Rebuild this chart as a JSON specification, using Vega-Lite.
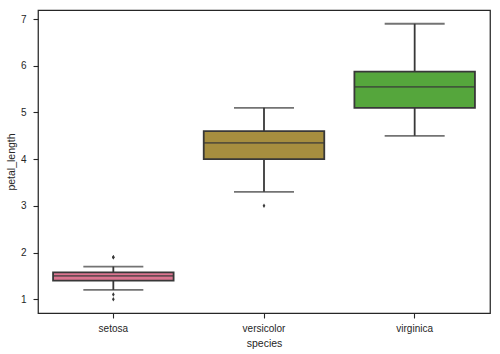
{
  "$schema": "https://vega.github.io/schema/vega-lite/v6.json",
  "autosize": {"type": "none"},
  "width": 452,
  "height": 303,
  "padding": {"left": 38, "top": 10, "right": 10, "bottom": 41},
  "background": "white",
  "config": {
    "view": {"stroke": "#262626", "strokeWidth": 1.25},
    "font": "Liberation Sans",
    "axis": {
      "domain": false,
      "grid": false,
      "tickColor": "#262626",
      "tickWidth": 1.1,
      "tickSize": 5,
      "labelColor": "#262626",
      "labelFontSize": 10,
      "titleColor": "#262626",
      "titleFontSize": 10.5,
      "titleFontWeight": "normal",
      "labelFont": "Liberation Sans",
      "titleFont": "Liberation Sans"
    }
  },
  "datasets": {
    "stats": [
      {"species": "setosa", "lo": 1.2, "q1": 1.4, "median": 1.5, "q3": 1.575, "hi": 1.7},
      {"species": "versicolor", "lo": 3.3, "q1": 4.0, "median": 4.35, "q3": 4.6, "hi": 5.1},
      {"species": "virginica", "lo": 4.5, "q1": 5.1, "median": 5.55, "q3": 5.875, "hi": 6.9}
    ],
    "outliers": [
      {"species": "setosa", "petal_length": 1.9},
      {"species": "setosa", "petal_length": 1.9},
      {"species": "setosa", "petal_length": 1.0},
      {"species": "setosa", "petal_length": 1.1},
      {"species": "versicolor", "petal_length": 3.0}
    ]
  },
  "encoding": {
    "x": {
      "field": "species",
      "type": "nominal",
      "sort": ["setosa", "versicolor", "virginica"],
      "scale": {"paddingInner": 0, "paddingOuter": 0},
      "axis": {"title": "species", "labelAngle": 0, "labelPadding": 5, "titlePadding": 5}
    }
  },
  "layer": [
    {
      "data": {"name": "stats"},
      "mark": {"type": "rule", "color": "#383838", "strokeWidth": 1.8},
      "encoding": {
        "y": {"field": "lo", "type": "quantitative"},
        "y2": {"field": "q1"}
      }
    },
    {
      "data": {"name": "stats"},
      "mark": {"type": "rule", "color": "#383838", "strokeWidth": 1.8},
      "encoding": {
        "y": {"field": "q3", "type": "quantitative"},
        "y2": {"field": "hi"}
      }
    },
    {
      "data": {"name": "stats"},
      "mark": {"type": "bar", "width": {"band": 0.8}, "stroke": "#383838", "strokeWidth": 1.8, "opacity": 1},
      "encoding": {
        "y": {
          "field": "q1",
          "type": "quantitative",
          "title": "petal_length",
          "scale": {"domain": [0.705, 7.195], "nice": false, "zero": false},
          "axis": {"values": [1, 2, 3, 4, 5, 6, 7], "labelPadding": 7, "titlePadding": 4}
        },
        "y2": {"field": "q3"},
        "color": {
          "field": "species",
          "type": "nominal",
          "legend": null,
          "scale": {"domain": ["setosa", "versicolor", "virginica"], "range": ["#db7590", "#a68e3f", "#55a63c"]}
        }
      }
    },
    {
      "data": {"name": "stats"},
      "mark": {"type": "tick", "orient": "horizontal", "size": 120, "thickness": 1.8, "color": "#383838"},
      "encoding": {"y": {"field": "median", "type": "quantitative"}}
    },
    {
      "data": {"name": "stats"},
      "mark": {"type": "tick", "orient": "horizontal", "size": 60, "thickness": 1.8, "color": "#383838"},
      "encoding": {"y": {"field": "lo", "type": "quantitative"}}
    },
    {
      "data": {"name": "stats"},
      "mark": {"type": "tick", "orient": "horizontal", "size": 60, "thickness": 1.8, "color": "#383838"},
      "encoding": {"y": {"field": "hi", "type": "quantitative"}}
    },
    {
      "data": {"name": "outliers"},
      "mark": {"type": "point", "shape": "M0,-1L0.6,0L0,1L-0.6,0Z", "filled": true, "size": 20, "color": "#383838", "opacity": 1},
      "encoding": {"y": {"field": "petal_length", "type": "quantitative"}}
    }
  ]
}
